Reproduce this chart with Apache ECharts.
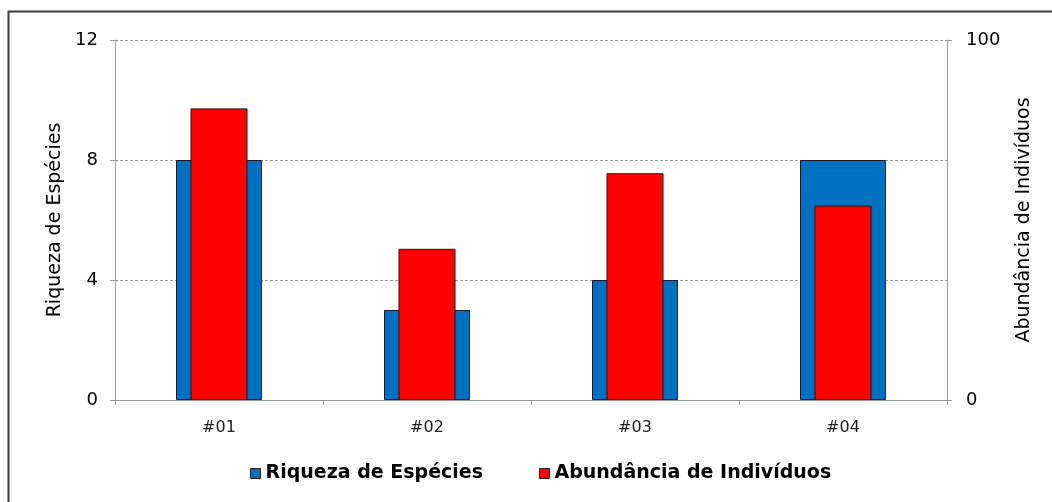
<!DOCTYPE html>
<html><head><meta charset="utf-8">
<script src="https://cdn.jsdelivr.net/npm/echarts@6/dist/echarts.min.js"></script>
<style>html,body{margin:0;padding:0;background:#fff}#c{width:1052px;height:502px}</style>
</head><body><div id="c"></div>
<script>
const categories = ['#01', '#02', '#03', '#04'];
const riqueza = [8, 3, 4, 8];
const abundancia = [81, 42, 63, 54];
const leftTicks = [0, 12, 4];   // min, max, interval
const rightTicks = [0, 100, 100];

const FONT = 'DejaVu Sans, Verdana, sans-serif';
const chart = echarts.init(document.getElementById('c'));
chart.setOption({
  backgroundColor: '#fff',
  animation: false,
  graphic: [{
    type: 'rect', shape: {x: 8.5, y: 11.5, width: 1200, height: 700},
    style: {fill: 'none', stroke: '#3a3a3a', lineWidth: 2}, silent: true, z: -1
  }],
  grid: {left: 115, right: 105, top: 40, bottom: 102, containLabel: false},
  legend: {
    left: 245, top: 459, itemWidth: 10, itemHeight: 10, itemGap: 56,
    icon: 'rect',
    textStyle: {fontFamily: FONT, fontSize: 19, fontWeight: 'bold', color: '#000'},
    data: [
      {name: 'Riqueza de Espécies', itemStyle: {borderColor: '#222', borderWidth: 1}},
      {name: 'Abundância de Indivíduos', itemStyle: {borderColor: '#222', borderWidth: 1}}
    ]
  },
  xAxis: [{
    type: 'category', data: categories,
    axisLine: {lineStyle: {color: '#999', width: 1}},
    axisTick: {show: true, length: 5, lineStyle: {color: '#999'}},
    axisLabel: {fontFamily: FONT, fontSize: 16, color: '#222', margin: 20}
  }, {
    type: 'category', data: categories, show: false
  }],
  yAxis: [{
    type: 'value', min: leftTicks[0], max: leftTicks[1], interval: leftTicks[2],
    name: 'Riqueza de Espécies', nameLocation: 'middle', nameGap: 50, nameRotate: 90,
    nameTextStyle: {fontFamily: FONT, fontSize: 19, color: '#000'},
    axisLine: {show: true, lineStyle: {color: '#999'}},
    axisTick: {show: true, length: 5, lineStyle: {color: '#999'}},
    axisLabel: {fontFamily: FONT, fontSize: 18, color: '#000', margin: 17},
    splitLine: {show: true, lineStyle: {color: '#999', type: [3, 2]}}
  }, {
    type: 'value', min: rightTicks[0], max: rightTicks[1], interval: rightTicks[2],
    position: 'right',
    name: 'Abundância de Indivíduos', nameLocation: 'middle', nameGap: 68, nameRotate: 90,
    nameTextStyle: {fontFamily: FONT, fontSize: 19, color: '#000'},
    axisLine: {show: true, lineStyle: {color: '#999'}},
    axisTick: {show: true, length: 5, lineStyle: {color: '#999'}},
    axisLabel: {fontFamily: FONT, fontSize: 18, color: '#000', margin: 19},
    splitLine: {show: false}
  }],
  series: [{
    name: 'Riqueza de Espécies', type: 'bar', xAxisIndex: 0, yAxisIndex: 0,
    data: riqueza, barWidth: 86,
    itemStyle: {color: '#0070C0', borderColor: '#1a1a2a', borderWidth: 1}
  }, {
    name: 'Abundância de Indivíduos', type: 'bar', xAxisIndex: 1, yAxisIndex: 1,
    data: abundancia, barWidth: 57,
    itemStyle: {color: '#FF0000', borderColor: '#1a1a1a', borderWidth: 1}
  }]
});
</script></body></html>
